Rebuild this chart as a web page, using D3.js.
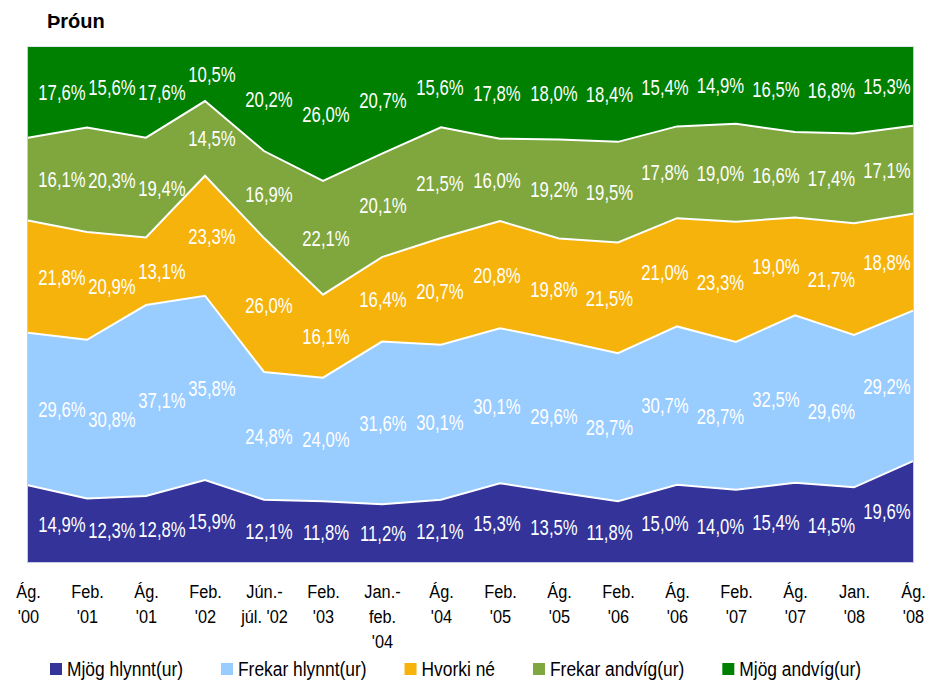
<!DOCTYPE html>
<html>
<head>
<meta charset="utf-8">
<script src="https://cdn.jsdelivr.net/npm/d3@7"></script>
<style>
  html, body { margin: 0; padding: 0; background: #fff; }
  svg { display: block; font-family: "Liberation Sans", Arial, sans-serif; }
</style>
</head>
<body>
<svg id="chart" width="929" height="683"></svg>
<script>
const title = "Þróun";
const categories = [
  ["Ág.", "'00"], ["Feb.", "'01"], ["Ág.", "'01"], ["Feb.", "'02"],
  ["Jún.-", "júl. '02"], ["Feb.", "'03"], ["Jan.-", "feb.", "'04"], ["Ág.", "'04"],
  ["Feb.", "'05"], ["Ág.", "'05"], ["Feb.", "'06"], ["Ág.", "'06"],
  ["Feb.", "'07"], ["Ág.", "'07"], ["Jan.", "'08"], ["Ág.", "'08"]
];
const seriesNames = ["Mjög hlynnt(ur)", "Frekar hlynnt(ur)", "Hvorki né", "Frekar andvíg(ur)", "Mjög andvíg(ur)"];
const seriesColors = ["#333399", "#99CCFF", "#F6B30B", "#80A73E", "#008000"];
const mjogHlynnt   = [14.9, 12.3, 12.8, 15.9, 12.1, 11.8, 11.2, 12.1, 15.3, 13.5, 11.8, 15.0, 14.0, 15.4, 14.5, 19.6];
const frekarHlynnt = [29.6, 30.8, 37.1, 35.8, 24.8, 24.0, 31.6, 30.1, 30.1, 29.6, 28.7, 30.7, 28.7, 32.5, 29.6, 29.2];
const hvorkiNe     = [21.8, 20.9, 13.1, 23.3, 26.0, 16.1, 16.4, 20.7, 20.8, 19.8, 21.5, 21.0, 23.3, 19.0, 21.7, 18.8];
const frekarAndvig = [16.1, 20.3, 19.4, 14.5, 16.9, 22.1, 20.1, 21.5, 16.0, 19.2, 19.5, 17.8, 19.0, 16.6, 17.4, 17.1];
const mjogAndvig   = [17.6, 15.6, 17.6, 10.5, 20.2, 26.0, 20.7, 15.6, 17.8, 18.0, 18.4, 15.4, 14.9, 16.5, 16.8, 15.3];

const seriesValues = [mjogHlynnt, frekarHlynnt, hvorkiNe, frekarAndvig, mjogAndvig];

// Build table for d3.stack
const table = categories.map((c, i) => {
  const row = { i };
  seriesNames.forEach((s, k) => row[s] = seriesValues[k][i]);
  return row;
});

const svg = d3.select("#chart");
const plot = { left: 28, right: 913, top: 47, bottom: 562 };

const x = d3.scalePoint().domain(d3.range(categories.length)).range([plot.left, plot.right]);
const y = d3.scaleLinear().domain([0, 1]).range([plot.bottom, plot.top]);
// data labels are pulled inward near the ends (as in the original)
const xLabel = d3.scaleLinear().domain([0, 3, 9, 15]).range([62, 212, 554, 887]);

const stack = d3.stack().keys(seriesNames).offset(d3.stackOffsetExpand);
const layers = stack(table);

const area = d3.area()
  .x((d, i) => x(i))
  .y0(d => y(d[0]))
  .y1(d => y(d[1]));

// faint plot frame
svg.append("rect")
  .attr("x", plot.left - 0.5).attr("y", plot.top)
  .attr("width", plot.right - plot.left + 1).attr("height", plot.bottom - plot.top + 0.5)
  .attr("fill", "none").attr("stroke", "#c9c9e3").attr("stroke-width", 1);

svg.append("g").selectAll("path")
  .data(layers)
  .join("path")
  .attr("d", area)
  .attr("fill", (d, k) => seriesColors[k]);

const line = d3.line().x((d, i) => x(i)).y(d => y(d[1]));
svg.append("g").selectAll("path")
  .data(layers.slice(0, layers.length - 1))
  .join("path")
  .attr("d", line)
  .attr("fill", "none")
  .attr("stroke", "#fff")
  .attr("stroke-width", 2);

// data labels
const fmt = v => d3.format(".1f")(v).replace(".", ",") + "%";
const labelG = svg.append("g");
layers.forEach((layer, k) => {
  layer.forEach((d, i) => {
    const cx = xLabel(i);
    const cy = y((d[0] + d[1]) / 2);
    labelG.append("text")
      .attr("transform", `translate(${cx},${cy}) scale(0.76,1)`)
      .attr("text-anchor", "middle")
      .attr("dy", "0.36em")
      .attr("fill", "#fff")
      .attr("font-size", 22)
      .text(fmt(seriesValues[k][i]));
  });
});

// x axis
const axis = d3.axisBottom(x).tickSize(0).tickFormat("");
const axisG = svg.append("g")
  .attr("transform", `translate(0,${plot.bottom})`)
  .call(axis);
axisG.select(".domain").remove();
axisG.selectAll(".tick").each(function(i) {
  const t = d3.select(this);
  t.select("text").remove();
  const txt = t.append("text")
    .attr("transform", "scale(0.86,1)")
    .attr("text-anchor", "middle")
    .attr("fill", "#000")
    .attr("font-size", 19);
  categories[i].forEach((ln, j) => {
    txt.append("tspan").attr("x", 0).attr("y", 36 + j * 25).text(ln);
  });
});

// title
svg.append("text")
  .attr("x", 47).attr("y", 28)
  .attr("font-size", 20).attr("font-weight", "bold")
  .attr("fill", "#000")
  .text(title);

// legend
const legend = svg.append("g").attr("transform", "translate(0,669)");
let lx = 50;
seriesNames.forEach((name, k) => {
  const g = legend.append("g").attr("transform", `translate(${lx},0)`);
  g.append("rect").attr("x", 0).attr("y", -6).attr("width", 12).attr("height", 12).attr("fill", seriesColors[k]);
  const t = g.append("text")
    .attr("transform", "translate(17,0) scale(0.87,1)")
    .attr("dy", "0.36em")
    .attr("font-size", 20)
    .attr("fill", "#000")
    .text(name);
  const w = t.node().getComputedTextLength() * 0.87;
  lx += 17 + w + 38;
});
</script>
</body>
</html>
